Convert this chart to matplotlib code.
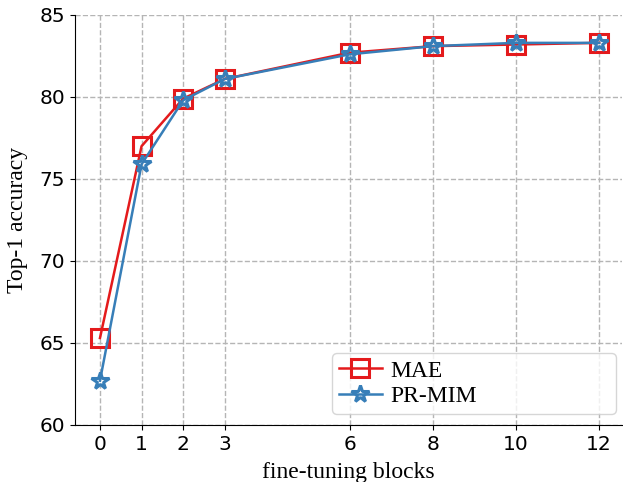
import matplotlib.pyplot as plt

# data
blocks = [0, 1, 2, 3, 6, 8, 10, 12]
mae = [65.3, 77.0, 79.9, 81.1, 82.7, 83.1, 83.2, 83.3]
prmim = [62.7, 75.9, 79.8, 81.1, 82.6, 83.1, 83.3, 83.3]

serif = ['Liberation Serif', 'DejaVu Serif']

fig = plt.figure(figsize=(6.23, 4.82), dpi=100)
ax = fig.add_axes([0.1204, 0.1183, 0.878, 0.8506])

ax.plot(blocks, mae, color='#e41a1c', marker='s', markersize=13, markerfacecolor='none',
        markeredgewidth=2.2, linewidth=1.8, label='MAE')
ax.plot(blocks, prmim, color='#377eb8', marker='*', markersize=13, markerfacecolor='none',
        markeredgewidth=2.2, linewidth=1.8, label='PR-MIM')

ax.set_xlim(-0.6, 12.55)
ax.set_ylim(60, 85)
ax.set_xticks(blocks)
ax.set_yticks([60, 65, 70, 75, 80, 85])
ax.tick_params(labelsize=14.5)
ax.grid(True, linestyle='--', color='#b5b5b5', linewidth=1)
ax.spines['top'].set_visible(False)
ax.spines['right'].set_visible(False)

ax.set_xlabel('fine-tuning blocks', family=serif, fontsize=17, labelpad=6)
ax.set_ylabel('Top-1 accuracy', family=serif, fontsize=17, labelpad=8)
ax.legend(loc='lower left', bbox_to_anchor=(0.470, 0.027, 0.519, 0.15), mode='expand',
          borderaxespad=0, prop={'family': serif, 'size': 17}, handlelength=1.8,
          handletextpad=0.35, labelspacing=0.15, borderpad=0.3)

fig.savefig('out.png', dpi=100)
